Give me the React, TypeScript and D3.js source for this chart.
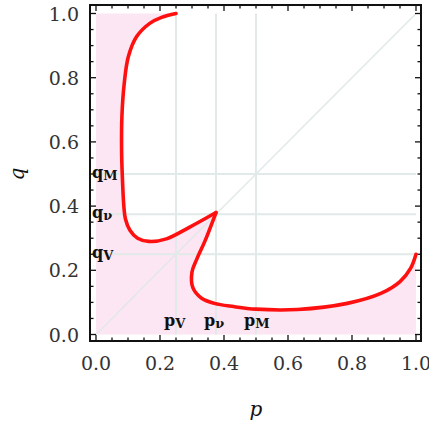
import React from "react";
import * as d3 from "d3";

const tickValues = [0, 0.2, 0.4, 0.6, 0.8, 1.0];
const tickLabels = ["0.0", "0.2", "0.4", "0.6", "0.8", "1.0"];
const minorTicks = d3.range(0, 21).map((i) => i * 0.05);

// reference lines
const markerValues = [0.25, 0.375, 0.5];
const qMarkerLabels = [
  { base: "q", sub: "V", v: 0.25 },
  { base: "q", sub: "ν", v: 0.375 },
  { base: "q", sub: "M", v: 0.5 },
];
const pMarkerLabels = [
  { base: "p", sub: "V", v: 0.25 },
  { base: "p", sub: "ν", v: 0.375 },
  { base: "p", sub: "M", v: 0.5 },
];

// curve branch 1: from top (0.25,1) down the left side to the cusp
const branch1P = [0.25, 0.205, 0.169, 0.127, 0.101, 0.088, 0.081, 0.08, 0.082, 0.087, 0.092, 0.106, 0.13, 0.165, 0.22, 0.29, 0.375];
const branch1Q = [1.0, 0.988, 0.97, 0.928, 0.865, 0.78, 0.68, 0.575, 0.5, 0.4, 0.36, 0.325, 0.3, 0.29, 0.298, 0.333, 0.38];
// curve branch 2: from the cusp down and along the bottom to (1,0.25)
const branch2P = [0.375, 0.34, 0.315, 0.3, 0.303, 0.33, 0.37, 0.43, 0.5, 0.63, 0.785, 0.89, 0.95, 0.983, 1.0];
const branch2Q = [0.38, 0.29, 0.235, 0.195, 0.145, 0.113, 0.097, 0.087, 0.079, 0.078, 0.097, 0.128, 0.165, 0.206, 0.25];

const W = 429;
const H = 431;
const x = d3.scaleLinear().domain([0, 1]).range([96, 416]);
const y = d3.scaleLinear().domain([0, 1]).range([334.5, 13.5]);
const frame = { left: 90, right: 421, top: 5, bottom: 341 };

const serif = "DejaVu Serif";

export default function App() {
  const b1: [number, number][] = branch1P.map((p, i) => [p, branch1Q[i]]);
  const b2: [number, number][] = branch2P.map((p, i) => [p, branch2Q[i]]);
  const line = d3
    .line<[number, number]>()
    .x((d) => x(d[0]))
    .y((d) => y(d[1]))
    .curve(d3.curveCatmullRom.alpha(0.5));
  const path1 = line(b1) || "";
  const path2 = line(b2) || "";
  const area =
    `M${x(0)},${y(1)}L` +
    path1.slice(1) +
    "L" +
    path2.slice(1) +
    `L${x(1)},${y(0)}L${x(0)},${y(0)}Z`;

  const gridColor = "#e1e9e9";
  const tickColor = "#333";

  return (
    <svg
      width={W}
      height={H}
      style={{ position: "absolute", left: 0, top: 0, background: "#fff" }}
    >
      <path d={area} fill="#fde6f3" stroke="none" />
      {/* diagonal */}
      <line x1={x(0)} y1={y(0)} x2={x(1)} y2={y(1)} stroke={gridColor} strokeWidth={1.5} />
      {markerValues.map((v) => (
        <g key={"g" + v}>
          <line x1={x(v)} x2={x(v)} y1={y(0)} y2={y(1)} stroke={gridColor} strokeWidth={2} />
          <line x1={x(0)} x2={x(1)} y1={y(v)} y2={y(v)} stroke={gridColor} strokeWidth={2} />
        </g>
      ))}
      <path d={path1} fill="none" stroke="#ff1010" strokeWidth={3.6} strokeLinecap="round" strokeLinejoin="round" />
      <path d={path2} fill="none" stroke="#ff1010" strokeWidth={3.6} strokeLinecap="round" strokeLinejoin="round" />

      {qMarkerLabels.map((l) => (
        <text key={"q" + l.sub} x={92} y={y(l.v) + 4} fontFamily={serif} fontSize={16} fontWeight="bold" fill="#111">
          {l.base}
          <tspan fontSize={13} dy={2}>{l.sub}</tspan>
        </text>
      ))}
      {pMarkerLabels.map((l) => (
        <text key={"p" + l.sub} x={x(l.v) - 12} y={326} fontFamily={serif} fontSize={16} fontWeight="bold" fill="#111">
          {l.base}
          <tspan fontSize={13} dy={2}>{l.sub}</tspan>
        </text>
      ))}

      {/* frame */}
      <rect
        x={frame.left}
        y={frame.top}
        width={frame.right - frame.left}
        height={frame.bottom - frame.top}
        fill="none"
        stroke="#111"
        strokeWidth={2}
      />
      {minorTicks.map((v, i) => {
        const major = i % 4 === 0;
        const len = major ? 6 : 3.5;
        return (
          <g key={"t" + i} stroke="#111" strokeWidth={1.3}>
            <line x1={x(v)} x2={x(v)} y1={frame.bottom} y2={frame.bottom - len} />
            <line x1={x(v)} x2={x(v)} y1={frame.top} y2={frame.top + len} />
            <line x1={frame.left} x2={frame.left + len} y1={y(v)} y2={y(v)} />
            <line x1={frame.right} x2={frame.right - len} y1={y(v)} y2={y(v)} />
          </g>
        );
      })}
      {tickValues.map((v, i) => (
        <g key={"l" + i}>
          <text x={79} y={y(v)} textAnchor="end" dominantBaseline="central" fontFamily={serif} fontSize={19} fill={tickColor}>
            {tickLabels[i]}
          </text>
          <text x={x(v)} y={370} textAnchor="middle" fontFamily={serif} fontSize={19} fill={tickColor}>
            {tickLabels[i]}
          </text>
        </g>
      ))}
      <text x={256} y={416} textAnchor="middle" fontFamily={serif} fontStyle="italic" fontSize={20} fill="#111">
        p
      </text>
      <text
        x={0}
        y={0}
        transform={`translate(24,${y(0.5)}) rotate(-90)`}
        textAnchor="middle"
        fontFamily={serif}
        fontStyle="italic"
        fontSize={20}
        fill="#111"
      >
        q
      </text>
    </svg>
  );
}
